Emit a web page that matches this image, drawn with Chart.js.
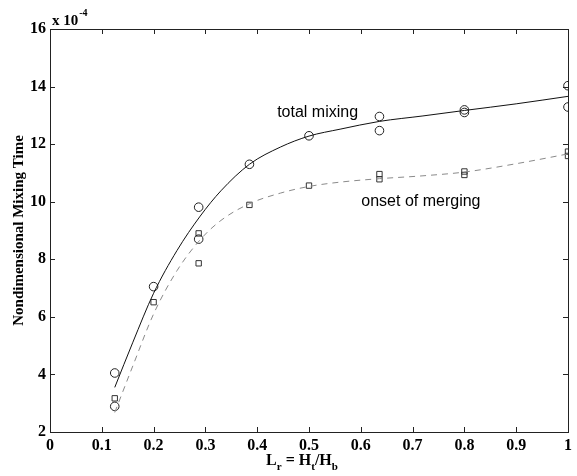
<!DOCTYPE html>
<html>
<head>
<meta charset="utf-8">
<script src="https://cdn.jsdelivr.net/npm/chart.js@4/dist/chart.umd.min.js"></script>
<style>
html,body{margin:0;padding:0;background:#fff;}
#wrap{width:577px;height:476px;position:relative;}
</style>
</head>
<body>
<div id="wrap"><canvas id="c" width="577" height="476"></canvas></div>
<script>
// ---- data ----
const xTickValues = [0,0.1,0.2,0.3,0.4,0.5,0.6,0.7,0.8,0.9,1];
const xTickLabels = ["0","0.1","0.2","0.3","0.4","0.5","0.6","0.7","0.8","0.9","1"];
const yTickValues = [2,4,6,8,10,12,14,16];
const yTickLabels = ["2","4","6","8","10","12","14","16"];

const circleX = [0.125,0.125,0.2,0.287,0.287,0.385,0.5,0.636,0.636,0.8,0.8,1,1];
const circleY = [4.05,2.89,7.05,9.81,8.70,11.30,12.29,12.96,12.47,13.19,13.10,14.03,13.29];
const squareX = [0.125,0.2,0.287,0.287,0.385,0.5,0.636,0.636,0.8,0.8,1,1];
const squareY = [3.17,6.51,8.90,7.86,9.89,10.56,10.96,10.78,11.05,10.93,11.74,11.59];

const fitX      = [0.125,0.16,0.2,0.245,0.29,0.33,0.385,0.445,0.5,0.56,0.636,0.72,0.8,0.9,1.0];
const totalFitY = [3.55,5.12,6.82,8.3,9.5,10.38,11.3,11.9,12.28,12.52,12.79,12.98,13.17,13.40,13.66];
const mergeFitY = [2.68,4.3,6.1,7.6,8.68,9.35,9.93,10.3,10.53,10.68,10.8,10.9,11.03,11.32,11.66];

const labelTotal = "total mixing";
const labelMerge = "onset of merging";
const yTitle = "Nondimensional Mixing Time";
const exponentText = ["x 10", "-4"];

const pts = (xs, ys) => xs.map((x, i) => ({x: x, y: ys[i]}));

const serif = "'Liberation Serif', 'Times New Roman', serif";
const sans = "'Liberation Sans', Arial, sans-serif";

const plotArea = {left: 50, right: 568, top: 29, bottom: 432};

const bgPlugin = {
  id: 'bg',
  beforeDraw(chart) {
    const ctx = chart.ctx;
    ctx.save();
    ctx.fillStyle = '#fff';
    ctx.fillRect(0, 0, chart.width, chart.height);
    ctx.restore();
  }
};

const framePlugin = {
  id: 'frame',
  afterDraw(chart) {
    const ctx = chart.ctx;
    const xs = chart.scales.x, ys = chart.scales.y;
    const a = chart.chartArea;
    ctx.save();
    ctx.strokeStyle = '#222';
    ctx.lineWidth = 1;
    ctx.strokeRect(Math.round(a.left) + 0.5, Math.round(a.top) + 0.5,
                   Math.round(a.right - a.left), Math.round(a.bottom - a.top));
    const tl = 5;
    ctx.beginPath();
    xTickValues.forEach(v => {
      const px = Math.round(xs.getPixelForValue(v)) + 0.5;
      ctx.moveTo(px, a.bottom); ctx.lineTo(px, a.bottom - tl);
      ctx.moveTo(px, a.top); ctx.lineTo(px, a.top + tl);
    });
    yTickValues.forEach(v => {
      const py = Math.round(ys.getPixelForValue(v)) + 0.5;
      ctx.moveTo(a.left, py); ctx.lineTo(a.left + tl, py);
      ctx.moveTo(a.right, py); ctx.lineTo(a.right - tl, py);
    });
    ctx.stroke();

    // exponent label
    ctx.fillStyle = '#000';
    ctx.font = "bold 15px " + serif;
    ctx.textBaseline = 'alphabetic';
    ctx.textAlign = 'left';
    ctx.fillText(exponentText[0], a.left + 2, 25);
    const w = ctx.measureText(exponentText[0]).width;
    ctx.font = "bold 10px " + serif;
    ctx.fillText(exponentText[1], a.left + 2 + w + 1, 16);

    // x axis title with subscripts
    const parts = [["L", false], ["r", true], [" = H", false], ["t", true], ["/H", false], ["b", true]];
    const mainFont = "bold 16px " + serif, subFont = "bold 11px " + serif;
    let total = 0;
    parts.forEach(p => { ctx.font = p[1] ? subFont : mainFont; total += ctx.measureText(p[0]).width; });
    let cx = 302 - total / 2;
    const base = 465;
    parts.forEach(p => {
      ctx.font = p[1] ? subFont : mainFont;
      ctx.fillText(p[0], cx, p[1] ? base + 5 : base);
      cx += ctx.measureText(p[0]).width;
    });

    // curve annotations
    ctx.font = "16px " + sans;
    ctx.fillText(labelTotal, xs.getPixelForValue(0.4385), ys.getPixelForValue(12.95));
    ctx.fillText(labelMerge, xs.getPixelForValue(0.601), ys.getPixelForValue(9.85));
    ctx.restore();
  }
};

new Chart(document.getElementById('c'), {
  type: 'scatter',
  data: {
    datasets: [
      {
        label: 'total mixing fit', data: pts(fitX, totalFitY), showLine: true,
        borderColor: '#111', borderWidth: 1, pointRadius: 0, fill: false,
        cubicInterpolationMode: 'monotone'
      },
      {
        label: 'onset of merging fit', data: pts(fitX, mergeFitY), showLine: true,
        borderColor: '#8a8a8a', borderWidth: 1, borderDash: [6, 5], pointRadius: 0, fill: false,
        cubicInterpolationMode: 'monotone'
      },
      {
        label: 'total mixing', data: pts(circleX, circleY), showLine: false,
        pointStyle: 'circle', pointRadius: 4.3, borderColor: '#222', borderWidth: 1,
        backgroundColor: 'rgba(0,0,0,0)'
      },
      {
        label: 'onset of merging', data: pts(squareX, squareY), showLine: false,
        pointStyle: 'rect', pointRadius: 3.8, borderColor: '#333', borderWidth: 1,
        backgroundColor: 'rgba(0,0,0,0)'
      }
    ]
  },
  options: {
    responsive: false,
    animation: false,
    devicePixelRatio: 1,
    layout: {padding: {top: plotArea.top, right: 577 - plotArea.right, left: 0, bottom: 0}},
    plugins: {legend: {display: false}, tooltip: {enabled: false}},
    scales: {
      x: {
        type: 'linear', min: 0, max: 1,
        afterBuildTicks: s => { s.ticks = xTickValues.map(v => ({value: v})); },
        afterFit: s => { s.height = 476 - plotArea.bottom; },
        grid: {display: false, drawTicks: false},
        border: {display: false},
        ticks: {
          padding: 4, color: '#000',
          font: {family: serif, size: 16, weight: 'bold'},
          callback: (v) => { const i = xTickValues.findIndex(t => Math.abs(t - v) < 1e-9); return i >= 0 ? xTickLabels[i] : ''; },
          maxRotation: 0, autoSkip: false
        }
      },
      y: {
        type: 'linear', min: 2, max: 16,
        afterBuildTicks: s => { s.ticks = yTickValues.map(v => ({value: v})); },
        afterFit: s => { s.width = plotArea.left; },
        grid: {display: false, drawTicks: false},
        border: {display: false},
        ticks: {
          padding: 4, color: '#000',
          font: {family: serif, size: 16, weight: 'bold'},
          callback: (v) => { const i = yTickValues.findIndex(t => Math.abs(t - v) < 1e-9); return i >= 0 ? yTickLabels[i] : ''; },
          autoSkip: false
        },
        title: {
          display: true, text: yTitle, color: '#000',
          font: {family: serif, size: 15, weight: 'bold'},
          padding: {top: 10, bottom: 0}
        }
      }
    }
  },
  plugins: [bgPlugin, framePlugin]
});
</script>
</body>
</html>
